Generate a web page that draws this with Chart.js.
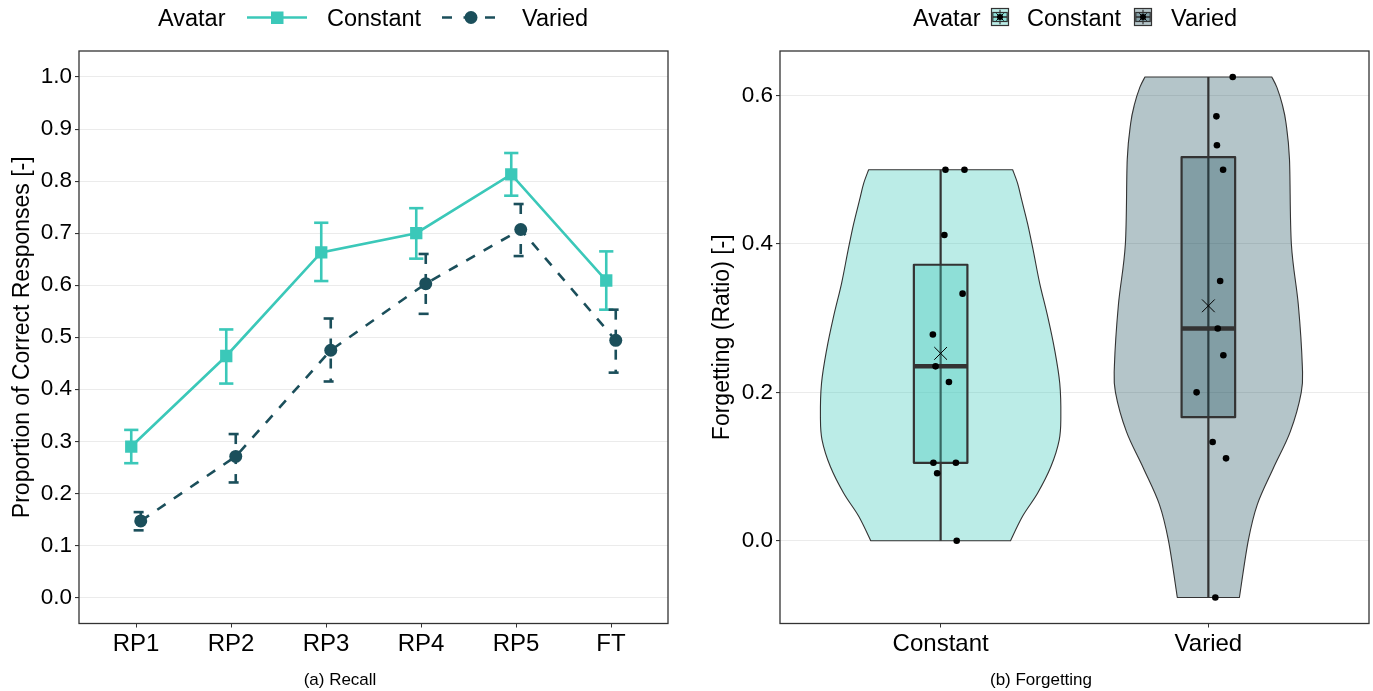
<!DOCTYPE html>
<html>
<head>
<meta charset="utf-8">
<script src="https://cdn.jsdelivr.net/npm/chart.js@4.4.1/dist/chart.umd.min.js"></script>
<style>
  html, body { margin: 0; padding: 0; background: #fff; }
  body { width: 1373px; height: 691px; position: relative; overflow: hidden;
         font-family: "Liberation Sans", Arial, Helvetica, sans-serif; }
  canvas { position: absolute; top: 0; }
  #recall { left: 0; }
  #forget { left: 690px; }
  .caption { position: absolute; top: 670px; font-size: 17px; color: #000;
             transform: translateX(-50%); white-space: nowrap; }
</style>
</head>
<body>
<canvas id="recall" width="690" height="691"></canvas>
<canvas id="forget" width="683" height="691"></canvas>
<div class="caption" style="left:340px">(a) Recall</div>
<div class="caption" style="left:1041px">(b) Forgetting</div>
<script>
Chart.defaults.font.family = '"Liberation Sans", Arial, Helvetica, sans-serif';
Chart.defaults.color = '#000';

const LEGEND_FONT = 23.5;
const XTICK_FONT = 24;
const YTICK_FONT = 22.5;
const TITLE_FONT = 23;
const TEAL = '#3BC8B9';
const DARK = '#1B4F5B';
const INK = '#333333';
const GRID = '#EBEBEB';

// (a) Recall
const phases = ['RP1', 'RP2', 'RP3', 'RP4', 'RP5', 'FT'];
const recallConstant = [0.290, 0.464, 0.663, 0.700, 0.813, 0.609];
const recallConstantLo = [0.258, 0.411, 0.608, 0.651, 0.772, 0.553];
const recallConstantHi = [0.322, 0.515, 0.720, 0.748, 0.854, 0.665];
const recallVaried = [0.147, 0.271, 0.475, 0.603, 0.707, 0.494];
const recallVariedLo = [0.129, 0.221, 0.415, 0.545, 0.656, 0.432];
const recallVariedHi = [0.164, 0.314, 0.536, 0.660, 0.756, 0.553];
const recallTicks = [0.0, 0.1, 0.2, 0.3, 0.4, 0.5, 0.6, 0.7, 0.8, 0.9, 1.0];

// (b) Forgetting
const groups = ['Constant', 'Varied'];
const forgetTicks = [0.0, 0.2, 0.4, 0.6];
const boxMin = [0.0, -0.0765];
const boxQ1 = [0.105, 0.1665];
const boxMedian = [0.235, 0.286];
const boxQ3 = [0.372, 0.517];
const boxMax = [0.5, 0.625];
const groupMean = [0.2525, 0.3166];

// violin outline: ratio level (top to bottom) and half width in category units
const constantViolinY = [0.500, 0.481, 0.459, 0.427, 0.391, 0.347, 0.302, 0.257, 0.212, 0.167, 0.136, 0.100, 0.064, 0.033, 0.000];
const constantViolinHalf = [0.269, 0.288, 0.303, 0.325, 0.346, 0.370, 0.400, 0.426, 0.445, 0.449, 0.443, 0.412, 0.362, 0.306, 0.261];
const variedViolinY = [0.625, 0.611, 0.588, 0.563, 0.514, 0.400, 0.318, 0.235, 0.200, 0.147, 0.098, 0.049, 0.000, -0.0765];
const variedViolinHalf = [0.237, 0.256, 0.276, 0.290, 0.303, 0.310, 0.336, 0.351, 0.347, 0.306, 0.243, 0.183, 0.149, 0.116];

// single participants (jitter, category units)
const constantRatio = [0.500, 0.500, 0.412, 0.333, 0.278, 0.235, 0.214, 0.105, 0.105, 0.091, 0.000];
const constantJitter = [0.018, 0.089, 0.014, 0.082, -0.029, -0.019, 0.031, -0.027, 0.057, -0.013, 0.060];
const variedRatio = [0.625, 0.572, 0.533, 0.500, 0.350, 0.286, 0.250, 0.200, 0.133, 0.111, -0.0765];
const variedJitter = [0.091, 0.030, 0.032, 0.055, 0.044, 0.035, 0.056, -0.044, 0.016, 0.066, 0.026];

const DODGE = 0.05;
const CAP = 0.075;
const BOX_HALF = 0.1;
const violinFill = ['rgba(59,200,185,0.35)', 'rgba(27,79,91,0.33)'];

function font(size) {
  return size + 'px "Liberation Sans", Arial, Helvetica, sans-serif';
}

// fixed axis band, no extra room for overhanging labels
function fixHeight(h) {
  return s => { s.height = h; s.paddingLeft = 0; s.paddingRight = 0; };
}

// draws the black frame round the plot area
const panelBorder = {
  id: 'panelBorder',
  afterDatasetsDraw(chart) {
    const { ctx, chartArea: a } = chart;
    ctx.save();
    ctx.strokeStyle = INK;
    ctx.lineWidth = 1.3;
    ctx.strokeRect(a.left, a.top, a.right - a.left, a.bottom - a.top);
    ctx.restore();
  }
};

// error bars, drawn like geom_errorbar: cap, stem, cap
const errorBars = {
  id: 'errorBars',
  beforeDatasetsDraw(chart) {
    const { ctx, scales: { x, y } } = chart;
    chart.data.datasets.forEach(ds => {
      ctx.save();
      ctx.strokeStyle = ds.borderColor;
      ctx.lineWidth = ds.borderWidth;
      ctx.setLineDash(ds.borderDash || []);
      ds.data.forEach((p, i) => {
        const xc = x.getPixelForValue(p.x);
        const xl = x.getPixelForValue(p.x - CAP);
        const xr = x.getPixelForValue(p.x + CAP);
        const yh = y.getPixelForValue(ds.hi[i]);
        const yl = y.getPixelForValue(ds.lo[i]);
        [[xl, yh, xr, yh], [xc, yh, xc, yl], [xl, yl, xr, yl]].forEach(s => {
          ctx.beginPath();
          ctx.moveTo(s[0], s[1]);
          ctx.lineTo(s[2], s[3]);
          ctx.stroke();
        });
      });
      ctx.restore();
    });
  }
};

const recallLegend = {
  id: 'recallLegend',
  afterDraw(chart) {
    const ctx = chart.ctx;
    ctx.save();
    ctx.font = font(LEGEND_FONT);
    ctx.fillStyle = '#000';
    ctx.textBaseline = 'alphabetic';
    ctx.fillText('Avatar', 158, 26);
    ctx.fillText('Constant', 327, 26);
    ctx.fillText('Varied', 522, 26);

    ctx.lineWidth = 2.6;
    ctx.strokeStyle = TEAL;
    ctx.beginPath();
    ctx.moveTo(247, 17.5);
    ctx.lineTo(307, 17.5);
    ctx.stroke();
    ctx.fillStyle = TEAL;
    ctx.fillRect(271, 11.5, 12.5, 12.5);

    ctx.strokeStyle = DARK;
    ctx.setLineDash([10, 11.5]);
    ctx.beginPath();
    ctx.moveTo(442, 17.5);
    ctx.lineTo(499, 17.5);
    ctx.stroke();
    ctx.setLineDash([]);
    ctx.fillStyle = DARK;
    ctx.beginPath();
    ctx.arc(471, 17.5, 6.5, 0, Math.PI * 2);
    ctx.fill();
    ctx.restore();
  }
};

function points(vals, shift) {
  return vals.map((v, i) => ({ x: i + 1 + shift, y: v }));
}

new Chart(document.getElementById('recall'), {
  type: 'line',
  data: {
    datasets: [
      {
        label: 'Constant',
        data: points(recallConstant, -DODGE),
        lo: recallConstantLo,
        hi: recallConstantHi,
        borderColor: TEAL,
        backgroundColor: TEAL,
        borderWidth: 2.6,
        pointStyle: 'rect',
        pointRadius: 8.7,
        pointBorderWidth: 0,
        tension: 0,
      },
      {
        label: 'Varied',
        data: points(recallVaried, DODGE),
        lo: recallVariedLo,
        hi: recallVariedHi,
        borderColor: DARK,
        backgroundColor: DARK,
        borderWidth: 2.6,
        borderDash: [10, 10],
        pointStyle: 'circle',
        pointRadius: 6.5,
        pointBorderWidth: 0,
        tension: 0,
      },
    ],
  },
  options: {
    responsive: false,
    devicePixelRatio: 1,
    animation: false,
    events: [],
    layout: { autoPadding: false, padding: { left: 0, right: 22, top: 51, bottom: 0 } },
    plugins: { legend: { display: false }, tooltip: { enabled: false } },
    scales: {
      x: {
        type: 'linear',
        min: 0.4,
        max: 6.6,
        afterBuildTicks: s => { s.ticks = phases.map((_, i) => ({ value: i + 1 })); },
        afterFit: fixHeight(67.5),
        ticks: { callback: v => phases[v - 1], font: { size: XTICK_FONT }, color: '#000', padding: 2, maxRotation: 0, autoSkip: false },
        grid: { drawOnChartArea: false, tickColor: INK, tickLength: 4 },
        border: { display: false },
      },
      y: {
        min: -0.05,
        max: 1.05,
        afterBuildTicks: s => { s.ticks = recallTicks.map(v => ({ value: v })); },
        afterFit: s => { s.width = 79; },
        ticks: { callback: v => v.toFixed(1), font: { size: YTICK_FONT }, color: '#000', padding: 3 },
        grid: { color: GRID, lineWidth: 1.1, tickColor: INK, tickLength: 4 },
        border: { display: false },
        title: { display: true, text: 'Proportion of Correct Responses [-]', font: { size: TITLE_FONT }, color: '#000', padding: { top: 9, bottom: 0 } },
      },
    },
  },
  plugins: [errorBars, panelBorder, recallLegend],
});

// smooth curve through a list of [x, y] pixels
function curveThrough(ctx, pts) {
  ctx.lineTo(pts[0][0], pts[0][1]);
  for (let i = 0; i < pts.length - 1; i++) {
    const p0 = pts[i - 1] || pts[i], p1 = pts[i], p2 = pts[i + 1], p3 = pts[i + 2] || p2;
    ctx.bezierCurveTo(
      p1[0] + (p2[0] - p0[0]) / 6, p1[1] + (p2[1] - p0[1]) / 6,
      p2[0] - (p3[0] - p1[0]) / 6, p2[1] - (p3[1] - p1[1]) / 6,
      p2[0], p2[1]);
  }
}

const violinY = [constantViolinY, variedViolinY];
const violinHalf = [constantViolinHalf, variedViolinHalf];

const violinBox = {
  id: 'violinBox',
  beforeDatasetsDraw(chart) {
    const { ctx, scales: { x, y } } = chart;
    groups.forEach((g, gi) => {
      const cx = gi + 1;
      const ys = violinY[gi], hw = violinHalf[gi];
      const right = ys.map((v, i) => [x.getPixelForValue(cx + hw[i]), y.getPixelForValue(v)]);
      const left = ys.map((v, i) => [x.getPixelForValue(cx - hw[i]), y.getPixelForValue(v)]).reverse();
      ctx.save();
      ctx.beginPath();
      ctx.moveTo(left[left.length - 1][0], left[left.length - 1][1]);
      curveThrough(ctx, right);
      curveThrough(ctx, left);
      ctx.closePath();
      ctx.fillStyle = violinFill[gi];
      ctx.fill();
      ctx.strokeStyle = INK;
      ctx.lineWidth = 1.1;
      ctx.lineJoin = 'round';
      ctx.stroke();

      // whisker
      const xc = x.getPixelForValue(cx);
      ctx.lineWidth = 2.2;
      ctx.beginPath();
      ctx.moveTo(xc, y.getPixelForValue(boxMax[gi]));
      ctx.lineTo(xc, y.getPixelForValue(boxMin[gi]));
      ctx.stroke();

      // box
      const bl = x.getPixelForValue(cx - BOX_HALF), br = x.getPixelForValue(cx + BOX_HALF);
      const bt = y.getPixelForValue(boxQ3[gi]), bb = y.getPixelForValue(boxQ1[gi]);
      ctx.fillStyle = violinFill[gi];
      ctx.fillRect(bl, bt, br - bl, bb - bt);
      ctx.strokeRect(bl, bt, br - bl, bb - bt);

      // median
      const ym = y.getPixelForValue(boxMedian[gi]);
      ctx.lineWidth = 4.5;
      ctx.beginPath();
      ctx.moveTo(bl, ym);
      ctx.lineTo(br, ym);
      ctx.stroke();
      ctx.restore();
    });
  }
};

function boxKey(ctx, x, y, s, gi) {
  ctx.fillStyle = violinFill[gi];
  ctx.fillRect(x, y, s, s);
  ctx.strokeStyle = INK;
  ctx.lineWidth = 1.2;
  ctx.strokeRect(x + 0.5, y + 0.5, s - 1, s - 1);
  ctx.beginPath();
  ctx.moveTo(x + s / 2, y + s * 0.1);
  ctx.lineTo(x + s / 2, y + s * 0.9);
  ctx.stroke();
  ctx.fillStyle = violinFill[gi];
  ctx.fillRect(x + s * 0.1, y + s * 0.25, s * 0.8, s * 0.5);
  ctx.strokeRect(x + s * 0.1, y + s * 0.25, s * 0.8, s * 0.5);
  ctx.lineWidth = 1.6;
  ctx.beginPath();
  ctx.moveTo(x + s * 0.1, y + s / 2);
  ctx.lineTo(x + s * 0.9, y + s / 2);
  ctx.stroke();
  ctx.fillStyle = '#000';
  ctx.beginPath();
  ctx.arc(x + s / 2, y + s / 2, 3, 0, Math.PI * 2);
  ctx.fill();
  ctx.strokeStyle = '#000';
  ctx.lineWidth = 1;
  ctx.beginPath();
  ctx.moveTo(x + s * 0.3, y + s * 0.3);
  ctx.lineTo(x + s * 0.7, y + s * 0.7);
  ctx.moveTo(x + s * 0.7, y + s * 0.3);
  ctx.lineTo(x + s * 0.3, y + s * 0.7);
  ctx.stroke();
}

const forgetLegend = {
  id: 'forgetLegend',
  afterDraw(chart) {
    const ctx = chart.ctx;
    ctx.save();
    ctx.font = font(LEGEND_FONT);
    ctx.fillStyle = '#000';
    ctx.fillText('Avatar', 223, 26);
    ctx.fillText('Constant', 337, 26);
    ctx.fillText('Varied', 481, 26);
    boxKey(ctx, 301, 8, 18, 0);
    boxKey(ctx, 444, 8, 18, 1);
    ctx.restore();
  }
};

function jittered(vals, jit, cx) {
  return vals.map((v, i) => ({ x: cx + jit[i], y: v }));
}

new Chart(document.getElementById('forget'), {
  type: 'scatter',
  data: {
    datasets: [
      {
        label: 'Mean',
        data: groupMean.map((m, i) => ({ x: i + 1, y: m })),
        pointStyle: 'crossRot',
        pointRadius: 9,
        borderColor: '#000',
        borderWidth: 1,
      },
      {
        label: 'Constant',
        data: jittered(constantRatio, constantJitter, 1),
        pointRadius: 3.3,
        backgroundColor: '#000',
        borderWidth: 0,
      },
      {
        label: 'Varied',
        data: jittered(variedRatio, variedJitter, 2),
        pointRadius: 3.3,
        backgroundColor: '#000',
        borderWidth: 0,
      },
    ],
  },
  options: {
    responsive: false,
    devicePixelRatio: 1,
    animation: false,
    events: [],
    layout: { autoPadding: false, padding: { left: 0, right: 4, top: 51, bottom: 0 } },
    plugins: { legend: { display: false }, tooltip: { enabled: false } },
    scales: {
      x: {
        type: 'linear',
        min: 0.4,
        max: 2.6,
        afterBuildTicks: s => { s.ticks = groups.map((_, i) => ({ value: i + 1 })); },
        afterFit: fixHeight(67.5),
        ticks: { callback: v => groups[v - 1], font: { size: XTICK_FONT }, color: '#000', padding: 2, maxRotation: 0, autoSkip: false },
        grid: { drawOnChartArea: false, tickColor: INK, tickLength: 4 },
        border: { display: false },
      },
      y: {
        min: -0.1116,
        max: 0.6601,
        afterBuildTicks: s => { s.ticks = forgetTicks.map(v => ({ value: v })); },
        afterFit: s => { s.width = 90; },
        ticks: { callback: v => v.toFixed(1), font: { size: YTICK_FONT }, color: '#000', padding: 3 },
        grid: { color: GRID, lineWidth: 1.1, tickColor: INK, tickLength: 4 },
        border: { display: false },
        title: { display: true, text: 'Forgetting (Ratio) [-]', font: { size: TITLE_FONT }, color: '#000', padding: { top: 19, bottom: 0 } },
      },
    },
  },
  plugins: [violinBox, panelBorder, forgetLegend],
});
</script>
</body>
</html>
